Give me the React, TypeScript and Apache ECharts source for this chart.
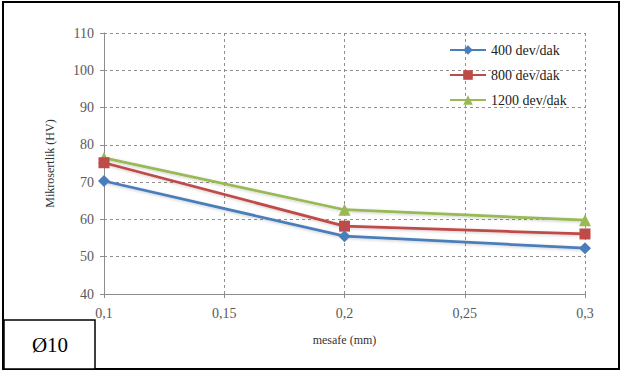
import React, { useEffect, useRef } from "react";
import * as echarts from "echarts";

const distances = [0.1, 0.2, 0.3];
const seriesNames = ["400 dev/dak", "800 dev/dak", "1200 dev/dak"];
const values400 = [70.3, 55.5, 52.3];
const values800 = [75.2, 58.2, 56.1];
const values1200 = [76.5, 62.6, 59.8];
const colors = ["#4A7EBB", "#BE4B48", "#98B954"];
const symbols = ["diamond", "rect", "triangle"];
const yTitle = "Mikrosertlik (HV)";
const xTitle = "mesafe (mm)";
const boxLabel = "Ø10";

const FONT = "'Liberation Serif', 'Times New Roman', serif";

export default function App() {
  const ref = useRef<HTMLDivElement>(null);
  useEffect(() => {
    if (!ref.current) return;
    const chart = echarts.init(ref.current, undefined, { renderer: "svg" });
    const all = [values400, values800, values1200];
    const fmtX = (v: number) => {
      const r = Math.round(v * 100) / 100;
      return String(r).replace(".", ",");
    };
    chart.setOption({
      animation: false,
      backgroundColor: "#ffffff",
      textStyle: { fontFamily: FONT },
      grid: { left: 104, right: 37, top: 33, bottom: 80 },
      legend: {
        orient: "vertical",
        left: 444,
        top: 38,
        itemWidth: 36,
        itemHeight: 12,
        itemGap: 11,
        textStyle: { fontFamily: FONT, fontSize: 14, color: "#222" },
        data: seriesNames,
      },
      xAxis: {
        type: "value",
        min: 0.1,
        max: 0.3,
        interval: 0.05,
        name: xTitle,
        nameLocation: "middle",
        nameGap: 40,
        nameTextStyle: { fontFamily: FONT, fontSize: 12, color: "#333" },
        axisLine: { show: true, lineStyle: { color: "#8C8C8C", width: 1 } },
        axisTick: { show: true, length: 4, lineStyle: { color: "#8C8C8C" } },
        axisLabel: {
          fontFamily: FONT,
          fontSize: 14,
          color: "#595959",
          margin: 12,
          formatter: fmtX,
        },
        splitLine: {
          show: true,
          lineStyle: { color: "#8f8f8f", type: [3, 3], width: 1 },
        },
      },
      yAxis: {
        type: "value",
        min: 40,
        max: 110,
        interval: 10,
        name: yTitle,
        nameLocation: "middle",
        nameGap: 48,
        nameTextStyle: { fontFamily: FONT, fontSize: 12, color: "#333" },
        axisLine: { show: true, lineStyle: { color: "#8C8C8C", width: 1 } },
        axisTick: { show: true, length: 4, lineStyle: { color: "#8C8C8C" } },
        axisLabel: { fontFamily: FONT, fontSize: 14, color: "#595959", margin: 10 },
        splitLine: {
          show: true,
          lineStyle: { color: "#8f8f8f", type: [3, 3], width: 1 },
        },
      },
      series: seriesNames.map((name, i) => ({
        name,
        type: "line",
        data: distances.map((d, j) => [d, all[i][j]]),
        symbol: symbols[i],
        symbolSize: i === 1 ? 11 : 12,
        lineStyle: {
          color: colors[i],
          width: 2.75,
          shadowBlur: 3,
          shadowColor: "rgba(0,0,0,0.2)",
          shadowOffsetY: 1,
        },
        itemStyle: { color: colors[i] },
        z: 3 - i,
      })),
      graphic: [
        {
          type: "rect",
          shape: { x: 3, y: 2, width: 616, height: 367 },
          style: { fill: "none", stroke: "#000", lineWidth: 2 },
          silent: true,
          z: 100,
        },
        {
          type: "rect",
          shape: { x: 4, y: 320, width: 91, height: 49 },
          style: { fill: "#fff", stroke: "#000", lineWidth: 1.5 },
          z: 100,
        },
        {
          type: "text",
          x: 50,
          y: 345,
          style: {
            text: boxLabel,
            fontFamily: FONT,
            fontSize: 21,
            fill: "#000",
            align: "center",
            verticalAlign: "middle",
          },
          z: 101,
        },
      ],
    });
    return () => chart.dispose();
  }, []);
  return <div ref={ref} style={{ width: 622, height: 374, position: "absolute", left: 0, top: 0 }} />;
}
